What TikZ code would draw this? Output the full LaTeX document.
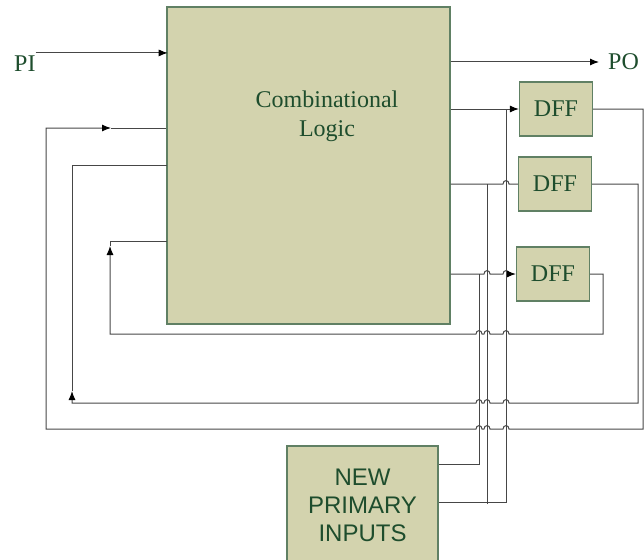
\documentclass[tikz,border=0pt]{standalone}
\usepackage{fontspec}
\setmainfont{Liberation Serif}
\setsansfont{Liberation Sans}
\usepackage{tikz}
\usetikzlibrary{positioning,arrows.meta,calc}
\definecolor{boxfill}{RGB}{211,211,174}
\definecolor{boxline}{RGB}{96,128,100}
\definecolor{txtgreen}{RGB}{30,77,45}
\definecolor{wiregray}{RGB}{70,70,70}

% hop of a horizontal wire over a vertical one: from x #1 to x #2 at height #3
\newcommand{\hopover}[3]{-- (#1,#3) .. controls (#1,#3-4.5) and (#2,#3-4.5) .. (#2,#3)}

\begin{document}
\begin{tikzpicture}[x=1pt, y=-1pt,
  blk_box/.style={draw=boxline, fill=boxfill, line width=1.2pt, inner sep=0pt},
  lbl_serif/.style={font=\fontsize{24}{29}\selectfont, text=txtgreen, inner sep=0pt, align=center},
  lbl_sans/.style={font=\sffamily\fontsize{24}{28}\selectfont, text=txtgreen, inner sep=0pt, align=center},
  dff_box/.style={blk_box, lbl_serif, minimum width=73pt, minimum height=54pt},
  wire_ln/.style={draw=wiregray, line width=1pt},
  arr_tip/.style={-{Latex[length=9pt,width=7pt,color=black]}}
]
\useasboundingbox (0,0) rectangle (644,559);
% Wire columns fed by the new primary inputs
\def\xA{479}
\def\xB{487}
\def\xC{506}

% --- Blocks ---
\node[blk_box, minimum width=283pt, minimum height=317pt] (logic) at (308.5,165.5) {};
\node[lbl_serif] (logic_txt) at (327,116) {Combinational\\Logic};
\node[dff_box] (dff_a) at (556,109) {DFF};
\node[dff_box] (dff_b) at (555,184) {DFF};
\node[dff_box] (dff_c) at (553,274) {DFF};
\node[blk_box, lbl_sans, minimum width=151pt, minimum height=118pt] (npi) at (362.5,505) {NEW\\PRIMARY\\INPUTS};

% --- Primary input / output ---
\node[lbl_serif, anchor=west] (pi) at (14,64) {PI};
\node[lbl_serif, anchor=west] (po) at (608,62) {PO};
\draw[wire_ln, arr_tip] ([yshift=3pt]pi.north east) -- ++(132,0);
\draw[wire_ln, arr_tip] (logic.east |- po.west) -- ([xshift=-9pt]po.west);

% --- Next-state wires into the DFFs ---
\draw[wire_ln, arr_tip] (logic.east |- dff_a.west) -- (dff_a.west);
\draw[wire_ln] (logic.east |- dff_b.west) \hopover{\xC-3}{\xC+3}{184} -- (dff_b.west);
\draw[wire_ln, arr_tip] (logic.east |- dff_c.west) \hopover{\xB-3}{\xB+3}{274}
  \hopover{\xC-3}{\xC+3}{274} -- (dff_c.west);

% --- New primary inputs ---
\draw[wire_ln] ([yshift=-19pt]npi.north east) -| (\xA,274);
\draw[wire_ln] ([yshift=-57pt]npi.north east) -| (\xC,109);
\draw[wire_ln] (\xB,504) -- (\xB,184);

% --- Feedback of the DFF outputs ---
\coordinate (fb_a) at (111,128);
\coordinate (fb_b) at (72,391);
\coordinate (fb_c) at (110,246);
\draw[wire_ln, arr_tip] (dff_a.east) -- (643,109) -- (643,429)
  \hopover{\xC+3}{\xC-3}{429} \hopover{\xB+3}{\xB-3}{429} \hopover{\xA+3}{\xA-3}{429}
  -- (46,429) -- (46,128) -- (fb_a);
\draw[wire_ln] (fb_a) -- (logic.west |- fb_a);
\draw[wire_ln, arr_tip] (dff_b.east) -- (638,184) -- (638,403)
  \hopover{\xC+3}{\xC-3}{403} \hopover{\xB+3}{\xB-3}{403} \hopover{\xA+3}{\xA-3}{403}
  -- (72,403) -- (fb_b);
\draw[wire_ln] (fb_b) -- (72,165) -- (167,165);
\draw[wire_ln, arr_tip] (dff_c.east) -- (603,274) -- (603,334)
  \hopover{\xC+3}{\xC-3}{334} \hopover{\xB+3}{\xB-3}{334} \hopover{\xA+3}{\xA-3}{334}
  -- (110,334) -- (fb_c);
\draw[wire_ln] (fb_c) -- (110,241) -- (167,241);
\end{tikzpicture}
\end{document}
